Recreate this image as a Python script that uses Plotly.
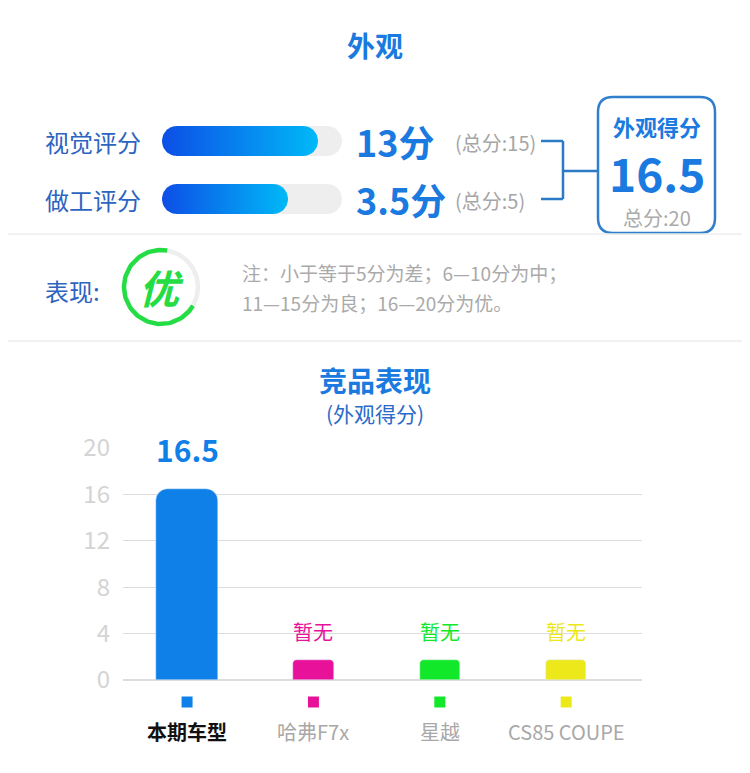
import numpy as np
import plotly.graph_objects as go

FONT = "Noto Sans CJK SC"

# --- data ---
section_title = "外观"
score_labels = ["视觉评分", "做工评分"]
score_values = [13, 3.5]
score_totals = [15, 5]
overall_label = "外观得分"
overall_score = 16.5
overall_total = 20
rating_label = "表现:"
rating = "优"
rating_notes = ["注：小于等于5分为差；6—10分为中；", "11—15分为良；16—20分为优。"]

chart_title = "竞品表现"
chart_subtitle = "(外观得分)"
cars = ["本期车型", "哈弗F7x", "星越", "CS85 COUPE"]
car_scores = [16.5, None, None, None]
car_colors = ["#0f80e8", "#e8129a", "#12e82a", "#ece81a"]
y_ticks = [0, 4, 8, 12, 16, 20]
missing_text = "暂无"
placeholder_height = 1.7

# page is 750x773; the browser body keeps an 8px margin round the figure
W, H, PAGE_PAD = 750, 773, 8
FW, FH = W - 2 * PAGE_PAD, H - 2 * PAGE_PAD
BLUE = "#1a7ae0"
LABEL_BLUE = "#2d64c0"
GRAY = "#a6a6a6"


def dom_x(px0, px1):
    return [(px0 - PAGE_PAD) / FW, (px1 - PAGE_PAD) / FW]


def dom_y(py_bottom, py_top):
    return [1 - (py_bottom - PAGE_PAD) / FH, 1 - (py_top - PAGE_PAD) / FH]


def rounded_bar(x0, x1, yc, h, n=24):
    """Polygon of a pill shape (half-circle caps) in page pixels."""
    r = h / 2
    t = np.linspace(np.pi / 2, 3 * np.pi / 2, n)
    lx = x0 + r + r * np.cos(t)
    ly = yc - r * np.sin(t)
    t2 = np.linspace(-np.pi / 2, np.pi / 2, n)
    rx = x1 - r + r * np.cos(t2)
    ry = yc - r * np.sin(t2)
    xs = np.concatenate([lx, rx, lx[:1]])
    ys = np.concatenate([ly, ry, ly[:1]])
    return xs, ys


def rounded_rect_path(x0, y0, x1, y1, r):
    return (f"M{x0 + r},{y0} L{x1 - r},{y0} Q{x1},{y0} {x1},{y0 + r} "
            f"L{x1},{y1 - r} Q{x1},{y1} {x1 - r},{y1} L{x0 + r},{y1} "
            f"Q{x0},{y1} {x0},{y1 - r} L{x0},{y0 + r} Q{x0},{y0} {x0 + r},{y0} Z")


fig = go.Figure()
annotations = []
shapes = []


def px_text(x, y, text, size, color, xanchor="left", bold=False):
    if bold:
        text = f"<b>{text}</b>"
    annotations.append(dict(
        x=x, y=y, xref="x2", yref="y2", text=text, showarrow=False,
        xanchor=xanchor, yanchor="middle", borderpad=0,
        font=dict(family=FONT, size=size, color=color),
    ))


# --- header ---
px_text(375, 45, section_title, 28, BLUE, "center", bold=True)

# --- score rows with progress bars ---
track_x0, track_x1, bar_h = 162, 342, 30
row_y = [141, 199]
for label, val, total, yc in zip(score_labels, score_values, score_totals, row_y):
    px_text(44, yc, label, 24, LABEL_BLUE)
    xs, ys = rounded_bar(track_x0, track_x1, yc, bar_h)
    fig.add_trace(go.Scatter(
        x=xs, y=ys, xaxis="x2", yaxis="y2", fill="toself", mode="lines",
        line=dict(width=0), fillcolor="#eeeeee", hoverinfo="skip", showlegend=False,
    ))
    fill_x1 = track_x0 + (track_x1 - track_x0) * val / total
    xs, ys = rounded_bar(track_x0, fill_x1, yc, bar_h)
    fig.add_trace(go.Scatter(
        x=xs, y=ys, xaxis="x2", yaxis="y2", fill="toself", mode="lines",
        line=dict(width=0),
        fillgradient=dict(type="horizontal",
                          colorscale=[[0, "#0d4ee6"], [1, "#00b9f7"]]),
        hoverinfo="skip", showlegend=False,
    ))
    px_text(355, yc, f"{val:g}分", 36, BLUE, bold=True)
    px_text(454, yc + 1, f"(总分:{total})", 20, GRAY)

# bracket joining the two rows to the total box
bracket = dict(color="#2a7ac6", width=2.5)
shapes += [
    dict(type="line", xref="x2", yref="y2", x0=541, x1=563, y0=row_y[0], y1=row_y[0], line=bracket),
    dict(type="line", xref="x2", yref="y2", x0=541, x1=563, y0=row_y[1], y1=row_y[1], line=bracket),
    dict(type="line", xref="x2", yref="y2", x0=563, x1=563, y0=row_y[0], y1=row_y[1], line=bracket),
    dict(type="line", xref="x2", yref="y2", x0=563, x1=598, y0=171, y1=171, line=bracket),
    dict(type="path", xref="x2", yref="y2", path=rounded_rect_path(598, 97, 715, 233, 15),
         line=dict(color="#2f7fcc", width=2.5)),
]
px_text(657, 126, overall_label, 22, BLUE, "center", bold=True)
px_text(657, 172, f"{overall_score:g}", 46, BLUE, "center", bold=True)
px_text(657, 217, f"总分:{overall_total}", 20, "#aaaaaa", "center")

# separators
for yline in [234, 341]:
    shapes.append(dict(type="line", xref="x2", yref="y2", x0=0, x1=W, y0=yline, y1=yline,
                       line=dict(color="#eeeeee", width=1.5)))

# --- rating badge ---
px_text(44, 290, rating_label, 24, LABEL_BLUE)
cx, cy, r = 161, 287, 37
for a0, a1, col in [(80, 330, "#24dd44"), (-30, 80, "#eeeeee")]:
    t = np.radians(np.linspace(a0, a1, 80))
    fig.add_trace(go.Scatter(
        x=cx + r * np.cos(t), y=cy - r * np.sin(t), xaxis="x2", yaxis="y2",
        mode="lines", line=dict(color=col, width=4.5), hoverinfo="skip", showlegend=False,
    ))
px_text(cx, cy, f"<i>{rating}</i>", 40, "#24dd44", "center", bold=True)
px_text(241, 272, rating_notes[0], 19, "#aaaaaa")
px_text(241, 302, rating_notes[1], 19, "#aaaaaa")

# --- competitor chart ---
px_text(375, 380, chart_title, 28, BLUE, "center", bold=True)
px_text(375, 413, chart_subtitle, 21, "#2a6ac8", "center")

idx = list(range(len(cars)))
fig.add_trace(go.Bar(
    x=idx[:1], y=car_scores[:1], width=0.49,
    marker=dict(color=car_colors[0], cornerradius=12),
    hoverinfo="skip", showlegend=False,
))
missing = [i for i, s in enumerate(car_scores) if s is None]
fig.add_trace(go.Bar(
    x=missing, y=[placeholder_height] * len(missing), width=0.32,
    marker=dict(color=[car_colors[i] for i in missing], cornerradius=4),
    hoverinfo="skip", showlegend=False,
))
for i, s in enumerate(car_scores):
    if s is None:
        annotations.append(dict(x=i, y=placeholder_height, xref="x", yref="y",
                                text=missing_text, showarrow=False, yanchor="bottom", yshift=12,
                                font=dict(family=FONT, size=20, color=car_colors[i])))
    else:
        annotations.append(dict(x=i, y=s, xref="x", yref="y",
                                text=f"<b>{s:g}</b>", showarrow=False, yanchor="bottom", yshift=16,
                                font=dict(family=FONT, size=30, color=car_colors[i])))

# category dots + names below the axis
fig.add_trace(go.Scatter(
    x=idx, y=[702] * len(idx), xaxis="x", yaxis="y2", mode="markers",
    marker=dict(symbol="square", size=11, color=car_colors),
    hoverinfo="skip", showlegend=False, cliponaxis=False,
))
for i, name in enumerate(cars):
    first = i == 0
    annotations.append(dict(
        x=i, y=731, xref="x", yref="y2", showarrow=False,
        text=f"<b>{name}</b>" if first else name,
        font=dict(family=FONT, size=20, color="#111111" if first else "#a8a8a8"),
    ))

fig.update_layout(
    width=FW, height=FH,
    margin=dict(l=0, r=0, t=0, b=0, pad=0, autoexpand=False),
    paper_bgcolor="white", plot_bgcolor="rgba(0,0,0,0)",
    font=dict(family=FONT),
    shapes=shapes,
    annotations=annotations,
    bargap=0,
    xaxis=dict(domain=dom_x(123, 642), range=[-0.507, 3.6], visible=False),
    yaxis=dict(domain=dom_y(680, 448), range=[0, 20], tickvals=y_ticks,
               showgrid=True, gridcolor="#dddddd", gridwidth=1,
               zeroline=True, zerolinecolor="#dddddd", showline=False, ticks="",
               ticklabelstandoff=12, automargin=False,
               tickfont=dict(family=FONT, size=24, color="#d4d4d4")),
    xaxis2=dict(domain=[0, 1], range=[PAGE_PAD, W - PAGE_PAD], visible=False, anchor="y2"),
    yaxis2=dict(domain=[0, 1], range=[H - PAGE_PAD, PAGE_PAD], visible=False, anchor="x2"),
)

fig.write_html("out.html")
